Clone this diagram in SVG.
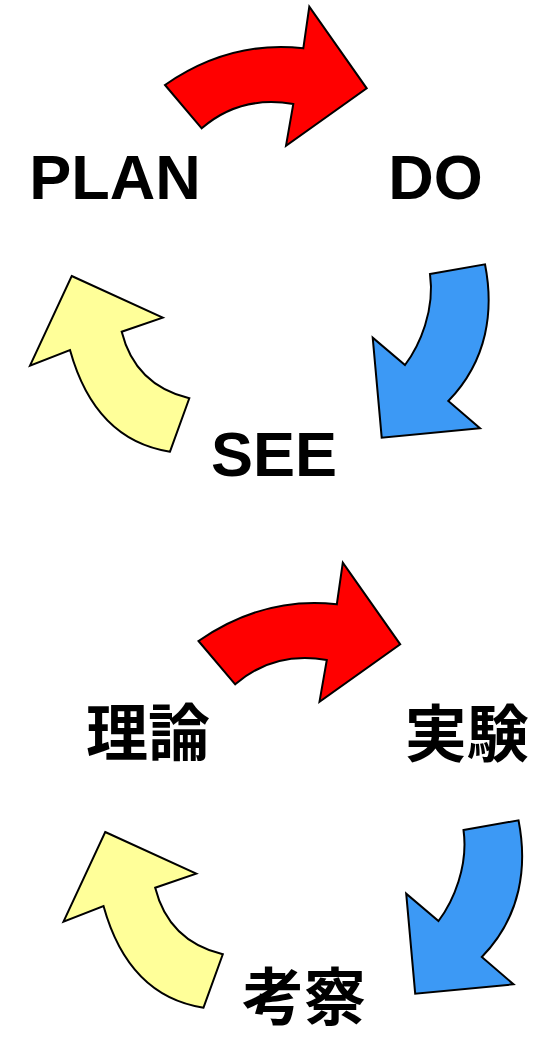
<svg xmlns="http://www.w3.org/2000/svg" width="552" height="1038" viewBox="0 0 552 1038">
<style>
.lbl{font-family:"Liberation Sans",Arial,sans-serif;font-weight:bold;font-size:63px;fill:#000;text-anchor:middle}
.jp{font-family:"Noto Sans CJK JP","Noto Sans CJK SC",sans-serif;font-weight:bold;font-size:62px;fill:#000;text-anchor:middle}
.arr{stroke:#000;stroke-width:2;stroke-linejoin:miter}
.red{fill:#FF0000}.blue{fill:#3C99F5}.yel{fill:#FFFF99}
</style>
<defs>
<path id="redArrow" class="arr red" d="M165,85 L201.7,128.3 Q240,95 293.3,104 L286,145.7 L366.7,88.3 L309.3,6.7 L303.3,48.3 Q230,40 165,85 Z"/>
<path id="blueArrow" class="arr blue" d="M430,274 L485,264.3 C494,310 488,360 448.3,401 L480,428.3 L381.7,437.7 L372.7,337.7 L405,365 C420,345 435,310 430,274 Z"/>
<path id="yelArrow" class="arr yel" d="M71.7,276 L162.7,317.7 L121.7,331.7 Q135,385 189.3,398.3 L170,451.7 Q95,440 70,350 L30,365.7 Z"/>
</defs>
<g id="connectors">
<use href="#redArrow"/>
<use href="#blueArrow"/>
<use href="#yelArrow"/>
<use href="#redArrow" transform="translate(33.5,556)"/>
<use href="#blueArrow" transform="translate(33.5,556)"/>
<use href="#yelArrow" transform="translate(33.5,556)"/>
</g>
<g id="plan"><text class="lbl" x="115" y="198.5">PLAN</text></g>
<g id="do"><text class="lbl" x="435.5" y="199">DO</text></g>
<g id="see"><text class="lbl" x="274" y="475.5">SEE</text></g>
<g id="riron"><text class="jp" x="148" y="756">理論</text></g>
<g id="jikken"><text class="jp" x="466.7" y="757">実験</text></g>
<g id="kousatsu"><text class="jp" x="304" y="1020">考察</text></g>
</svg>
